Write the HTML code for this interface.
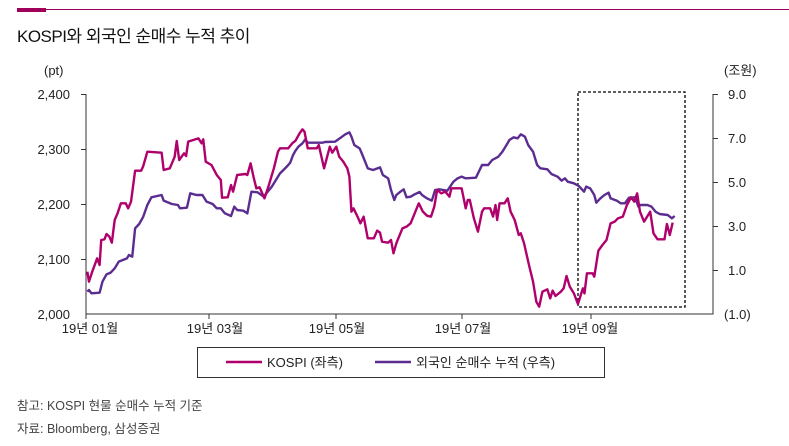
<!DOCTYPE html>
<html><head><meta charset="utf-8"><style>
body{margin:0;background:#fff;width:789px;height:441px;overflow:hidden;font-family:"Liberation Sans","Noto Sans CJK KR",sans-serif;}
</style></head><body>
<svg width="789" height="441" xmlns="http://www.w3.org/2000/svg" font-family="Liberation Sans, Noto Sans CJK KR, sans-serif">
<line x1="17" y1="9.5" x2="789" y2="9.5" stroke="#a0005a" stroke-width="1"/>
<rect x="17" y="8" width="29" height="4" fill="#a0005a"/>
<text x="17" y="42" font-size="17" fill="#111" letter-spacing="-0.5">KOSPI와 외국인 순매수 누적 추이</text>
<g font-size="13" fill="#222">
<text x="44" y="75">(pt)</text>
<text x="70" y="99" text-anchor="end">2,400</text>
<text x="70" y="154" text-anchor="end">2,300</text>
<text x="70" y="209" text-anchor="end">2,200</text>
<text x="70" y="264" text-anchor="end">2,100</text>
<text x="70" y="319" text-anchor="end">2,000</text>
<text x="724" y="75">(조원)</text>
<text x="728" y="99">9.0</text>
<text x="728" y="143">7.0</text>
<text x="728" y="187">5.0</text>
<text x="728" y="231">3.0</text>
<text x="728" y="275">1.0</text>
<text x="724" y="319">(1.0)</text>
<text x="90" y="333" text-anchor="middle">19년 01월</text>
<text x="215" y="333" text-anchor="middle">19년 03월</text>
<text x="337" y="333" text-anchor="middle">19년 05월</text>
<text x="463" y="333" text-anchor="middle">19년 07월</text>
<text x="590" y="333" text-anchor="middle">19년 09월</text>
</g>
<g stroke="#333" stroke-width="1" fill="none">
<path d="M86 94V314H713V94"/>
<path d="M81 94.5H86M81 149.5H86M81 204.5H86M81 259.5H86"/>
<path d="M713 138.5H718M713 182.5H718M713 226.5H718M713 270.5H718M713 94.5H718"/>
<path d="M209 314V319M336 314V319M462 314V319M591 314V319M86 314V319"/>
</g>
<rect x="578" y="92" width="107" height="215" fill="none" stroke="#000" stroke-width="1.3" stroke-dasharray="3,2"/>
<g transform="translate(80,80) scale(0.40816,0.33333)" fill="none" stroke-width="2.4" stroke-linejoin="round">
<polyline vector-effect="non-scaling-stroke" stroke="#5b2d90" points="18,635 22,630 28,640 48,638 55,605 65,583 75,578 85,565 95,545 105,540 115,535 120,525 128,530 135,445 145,432 155,410 165,375 175,352 200,345 205,362 225,372 240,375 245,385 262,383 270,340 285,345 300,345 310,365 325,372 335,385 345,385 355,400 370,408 378,380 385,390 400,392 410,400 420,335 435,337 450,350 460,335 470,320 480,300 490,280 500,268 508,258 515,248 522,225 528,212 535,200 545,190 552,178 558,188 595,188 600,186 625,185 640,172 650,163 660,157 665,170 672,195 685,205 692,225 705,265 718,270 735,262 742,285 755,295 762,330 770,360 775,345 785,335 793,328 800,352 810,350 820,343 832,336 838,345 850,355 862,362 870,330 880,328 900,332 915,305 925,295 935,290 945,295 970,293 985,255 1000,255 1010,240 1025,230 1035,215 1045,195 1052,180 1062,172 1072,175 1080,163 1090,170 1098,195 1110,215 1120,255 1128,265 1145,268 1155,282 1170,290 1180,302 1188,295 1195,305 1210,310 1222,318 1235,335 1240,320 1250,325 1260,345 1265,368 1275,355 1285,345 1295,338 1300,355 1315,362 1325,370 1335,370 1345,353 1360,352 1368,380 1372,375 1390,375 1400,380 1410,395 1420,402 1440,405 1450,415 1457,408"/>
<polyline vector-effect="non-scaling-stroke" stroke="#b0006c" points="18,575 22,605 30,575 42,535 48,555 52,480 60,478 65,462 72,470 78,488 85,420 92,400 100,370 112,370 118,385 125,365 135,272 150,272 155,258 165,215 200,218 205,270 220,265 232,230 237,183 243,240 255,220 260,228 265,185 290,175 298,190 302,178 308,245 322,255 335,285 345,300 348,353 362,352 370,315 375,335 385,285 405,282 410,285 418,250 425,290 432,325 440,322 452,355 462,318 475,265 485,215 490,205 510,205 520,190 528,182 538,160 545,148 550,155 558,205 580,205 585,195 598,265 612,200 618,218 628,200 635,230 645,245 655,265 660,290 665,395 670,385 680,410 687,430 695,410 705,475 720,475 728,452 735,458 740,485 755,488 762,480 768,520 775,490 790,445 800,440 810,430 820,400 830,370 840,395 850,407 860,410 868,380 875,330 885,340 895,335 905,350 910,325 935,325 945,385 950,360 955,360 965,415 975,455 985,395 990,385 1005,385 1012,410 1018,375 1022,420 1028,370 1040,370 1048,355 1055,395 1065,420 1075,465 1080,460 1088,490 1100,555 1110,605 1118,665 1125,680 1133,635 1145,628 1152,655 1158,632 1165,648 1178,635 1185,625 1192,588 1200,620 1210,640 1220,672 1232,625 1236,640 1242,580 1256,580 1260,590 1270,512 1280,495 1290,480 1300,430 1310,425 1318,415 1330,410 1340,375 1350,352 1358,365 1365,340 1372,395 1382,425 1397,395 1405,460 1415,478 1432,478 1438,432 1445,465 1452,428"/>
</g>
<rect x="197.5" y="347.5" width="407" height="30" fill="#fff" stroke="#333" stroke-width="1"/>
<line x1="226" y1="362" x2="262" y2="362" stroke="#b0006c" stroke-width="2.5"/>
<text x="267" y="367" font-size="13" fill="#222">KOSPI (좌측)</text>
<line x1="375" y1="362" x2="411" y2="362" stroke="#5b2d90" stroke-width="2.5"/>
<text x="416" y="367" font-size="13" fill="#222">외국인 순매수 누적 (우측)</text>
<text x="17" y="410" font-size="12.5" fill="#444">참고: KOSPI 현물 순매수 누적 기준</text>
<text x="17" y="433" font-size="12.5" fill="#444">자료: Bloomberg, 삼성증권</text>
</svg>
</body></html>
